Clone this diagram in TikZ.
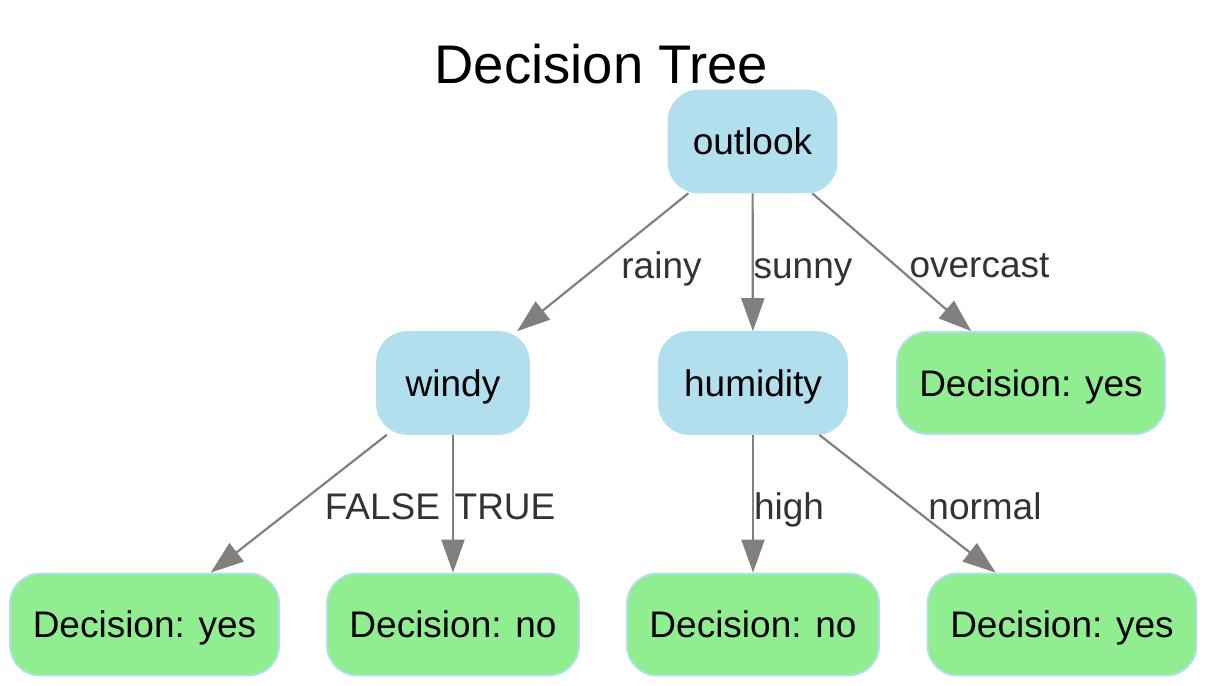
\documentclass[tikz,border=0pt]{standalone}
\usepackage{fontspec}
\setmainfont{Liberation Sans}
\usetikzlibrary{arrows.meta}
\definecolor{nodeblue}{HTML}{B2DFEE}
\definecolor{leafgreen}{HTML}{90EE90}
\definecolor{edgegray}{HTML}{808080}
\definecolor{labelgray}{HTML}{333333}
\tikzset{
  base/.style={rounded corners=15pt, inner sep=0pt, minimum height=51pt,
    text height=13.2pt, text depth=0pt, font=\fontsize{18.5}{22}\selectfont, text=black},
  inner/.style={base, fill=nodeblue, draw=nodeblue, line width=0.8pt},
  leaf/.style={base, fill=leafgreen, draw=nodeblue, line width=0.9pt},
  edge/.style={draw=edgegray, line width=1.1pt, -{Triangle[length=16.5pt,width=11.5pt]}},
  lbl/.style={anchor=base, inner sep=0pt, text=labelgray, font=\fontsize{18.5}{22}\selectfont},
}
\begin{document}
\begin{tikzpicture}[x=0.5pt,y=-0.5pt]
\useasboundingbox (0,0) rectangle (1206,686);
\node[anchor=base, inner sep=0pt, font=\fontsize{27.2}{32}\selectfont] (title) at (601.5,83) {Decision Tree};
\node[inner, minimum width=84pt] (outlook) at (752.5,141.5) {outlook};
\node[inner, minimum width=76pt] (windy) at (453,383) {windy};
\node[inner, minimum width=94pt] (humidity) at (753,383) {humidity};
\node[leaf, minimum width=134pt] (yesA) at (1031,383) {Decision: yes};
\node[leaf, minimum width=134.5pt] (yesB) at (144.5,624.5) {Decision: yes};
\node[leaf, minimum width=126pt] (noA) at (453,624.5) {Decision: no};
\node[leaf, minimum width=126pt] (noB) at (753,624.5) {Decision: no};
\node[leaf, minimum width=134.5pt] (yesC) at (1062,624.5) {Decision: yes};
\draw[edge] (outlook) -- (windy);
\draw[edge] (outlook) -- (humidity);
\draw[edge] (outlook) -- (yesA);
\draw[edge] (windy) -- (yesB);
\draw[edge] (windy) -- (noA);
\draw[edge] (humidity) -- (noB);
\draw[edge] (humidity) -- (yesC);
\node[lbl] (lrainy) at (661.5,278) {rainy};
\node[lbl] (lsunny) at (803,278) {sunny};
\node[lbl] (lovercast) at (979.5,277) {overcast};
\node[lbl] (lfalse) at (382.5,519) {FALSE};
\node[lbl] (ltrue) at (505,519) {TRUE};
\node[lbl] (lhigh) at (789,519) {high};
\node[lbl] (lnormal) at (985,519) {normal};
\end{tikzpicture}
\end{document}
